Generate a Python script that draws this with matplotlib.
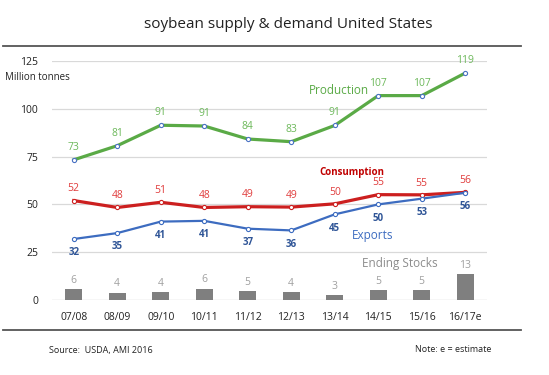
import matplotlib
matplotlib.use("Agg")
import matplotlib.pyplot as plt
from matplotlib.lines import Line2D

plt.rcParams['font.family'] = ['Open Sans', 'DejaVu Sans']

seasons = ["07/08", "08/09", "09/10", "10/11", "11/12", "12/13", "13/14", "14/15", "15/16", "16/17e"]
production = [73.3, 80.7, 91.4, 91.0, 84.2, 82.8, 91.3, 106.9, 106.9, 118.7]
consumption = [52.0, 48.4, 51.1, 48.4, 48.8, 48.6, 50.3, 55.1, 55.0, 56.3]
exports = [31.9, 35.0, 41.0, 41.4, 37.3, 36.4, 44.8, 50.0, 53.0, 56.1]
ending_stocks = [5.7, 3.7, 4.0, 6.0, 4.6, 4.0, 2.6, 5.2, 5.2, 13.4]
yticks = [0, 25, 50, 75, 100, 125]

green = "#5aaa46"
red = "#cc1f1f"
blue = "#3d6cc0"
grey_bar = "#7f7f7f"

fig = plt.figure(figsize=(5.49, 3.75), dpi=100)
ax = fig.add_axes([52 / 549, 1 - 300 / 375, 435 / 549, 239 / 375])
x = list(range(len(seasons)))

for y in yticks:
    ax.axhline(y, color="#d9d9d9" if y else "#bfbfbf", lw=0.9, zorder=0)

ax.bar(x, ending_stocks, width=0.4, color=grey_bar, zorder=2)
for xi, v in zip(x, ending_stocks):
    ax.annotate(f"{v:.0f}", (xi, v), xytext=(0, 2.5), textcoords="offset points",
                ha="center", va="bottom", fontsize=7.5, color="#a0a0a0")

ax.plot(x, production, color=green, lw=2.3, zorder=3, marker="o", ms=3,
        mfc="white", mec="#4a72c4", mew=0.8)
ax.plot(x, consumption, color=red, lw=2.3, zorder=3, marker="o", ms=3,
        mfc="white", mec=red, mew=0.8)
ax.plot(x, exports, color=blue, lw=1.6, zorder=4, marker="o", ms=3,
        mfc="white", mec=blue, mew=0.8)

for xi, v in zip(x, production):
    ax.annotate(f"{v:.0f}", (xi, v), xytext=(0, 5), textcoords="offset points",
                ha="center", va="bottom", fontsize=7.5, color="#6cb85a")
for xi, v in zip(x, consumption):
    ax.annotate(f"{v:.0f}", (xi, v), xytext=(0, 4.5), textcoords="offset points",
                ha="center", va="bottom", fontsize=7.5, color="#e03c3c")
for xi, v in zip(x, exports):
    ax.annotate(f"{v:.0f}", (xi, v), xytext=(0, -6), textcoords="offset points",
                ha="center", va="top", fontsize=7, color="#2f5597",
                fontweight="bold")

ax.set_xlim(-0.5, 9.5)
ax.set_ylim(0, 125)
ax.set_xticks(x)
ax.set_xticklabels(seasons)
ax.set_yticks(yticks)
ax.tick_params(axis="both", length=0, labelsize=7.5, colors="#222222")
ax.tick_params(axis="x", pad=9)
ax.tick_params(axis="y", pad=10)
for s in ax.spines.values():
    s.set_visible(False)

# series labels
fig.text(339 / 549, 1 - 91 / 375, "Production", color=green, fontsize=8.5,
         ha="center", va="center")
fig.text(352 / 549, 1 - 172 / 375, "Consumption", color="#c00000", fontsize=7,
         fontweight="bold", ha="center", va="center")
fig.text(373 / 549, 1 - 236 / 375, "Exports", color=blue, fontsize=8.5,
         ha="center", va="center")
fig.text(400 / 549, 1 - 263 / 375, "Ending Stocks", color="#8c8c8c", fontsize=8.5,
         ha="center", va="center")
fig.text(5 / 549, 1 - 77 / 375, "Million tonnes", color="#222222", fontsize=7,
         ha="left", va="center")

fig.text(288 / 549, 1 - 25 / 375, "soybean supply & demand United States",
         fontsize=11, color="#222222", ha="center", va="center")

# separator lines
for ypx in (46, 330):
    fig.add_artist(Line2D([3 / 549, 521 / 549], [1 - ypx / 375, 1 - ypx / 375],
                          color="#555555", lw=1.3))

fig.text(49 / 549, 1 - 350 / 375, "Source:  USDA, AMI 2016", fontsize=6.5,
         color="#222222", ha="left", va="center")
fig.text(491 / 549, 1 - 350 / 375, "Note: e = estimate", fontsize=6.5,
         color="#222222", ha="right", va="center")

fig.savefig("out.png", dpi=100, facecolor="white")
